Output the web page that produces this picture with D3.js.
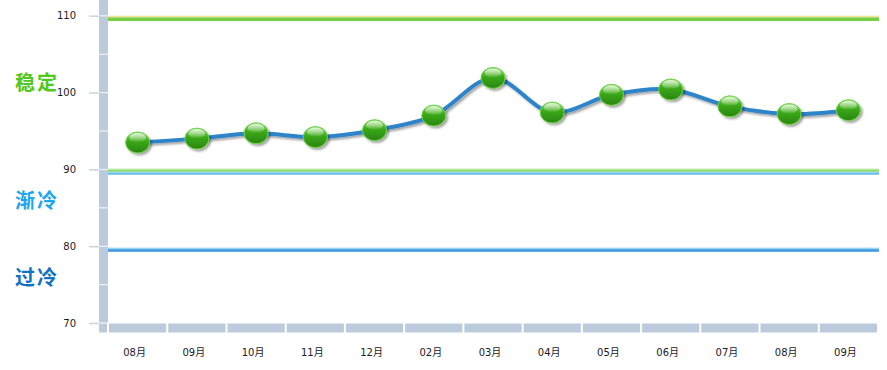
<!DOCTYPE html>
<html>
<head>
<meta charset="utf-8">
<script src="https://cdn.jsdelivr.net/npm/d3@7"></script>
<style>
  body { margin: 0; background: #fff; }
  svg { display: block; }
  .tick-label { font-family: "DejaVu Sans", "Noto Sans CJK SC", sans-serif; font-size: 10px; fill: #1a1a28; }
  .zone { font-family: "Noto Sans CJK SC", sans-serif; font-size: 20px; font-weight: bold; }
</style>
</head>
<body>
<div id="chart"></div>
<script>
// Data
const months = ["08月", "09月", "10月", "11月", "12月", "02月", "03月", "04月", "05月", "06月", "07月", "08月", "09月"];
const values = [93.5, 94.0, 94.7, 94.2, 95.1, 97.0, 101.9, 97.4, 99.7, 100.4, 98.2, 97.2, 97.7];
const yTicks = [70, 80, 90, 100, 110];
const zoneNames = ["稳定", "渐冷", "过冷"];
const zoneLabelAt = [101.2, 85.9, 75.9];
const zoneColors = ["#52c71c", "#1ea6ee", "#1171c3"];

const W = 887, H = 370;

const svg = d3.select("#chart")
    .append("svg")
    .attr("width", W)
    .attr("height", H);

const defs = svg.append("defs");

// drop shadow
const shadow = defs.append("filter").attr("id", "shadow")
    .attr("x", "-20%").attr("y", "-20%").attr("width", "150%").attr("height", "160%");
shadow.append("feDropShadow")
    .attr("dx", 2).attr("dy", 2)
    .attr("stdDeviation", 1.3)
    .attr("flood-color", "#000")
    .attr("flood-opacity", 0.35);

// ball gradient
const ballGrad = defs.append("linearGradient")
    .attr("id", "ball").attr("x1", "0").attr("y1", "0").attr("x2", "0").attr("y2", "1");
[["0%", "#7fd85a"], ["45%", "#3aa818"], ["100%", "#2a850f"]].forEach(s => {
    ballGrad.append("stop").attr("offset", s[0]).attr("stop-color", s[1]);
});
const hiGrad = defs.append("linearGradient")
    .attr("id", "hi").attr("x1", "0").attr("y1", "0").attr("x2", "0").attr("y2", "1");
hiGrad.append("stop").attr("offset", "0%").attr("stop-color", "#fff").attr("stop-opacity", 0.8);
hiGrad.append("stop").attr("offset", "100%").attr("stop-color", "#fff").attr("stop-opacity", 0.05);

// Scales
const x = d3.scaleBand()
    .domain(d3.range(months.length))
    .range([108, 878]);

const y = d3.scaleLinear()
    .domain([70, 110])
    .range([323, 15.7]);

// Vertical axis bar
svg.append("rect")
    .attr("x", 99).attr("y", 0)
    .attr("width", 9).attr("height", y(70) - 0.5)
    .attr("fill", "#bccbdb");

// white separators every 5 units
svg.selectAll(".sep")
    .data(d3.range(75, 111, 5))
    .enter().append("rect")
    .attr("x", 99).attr("y", d => y(d) - 0.5)
    .attr("width", 9).attr("height", 1.2)
    .attr("fill", "#eef2f6");

// Left axis ticks + labels
const yAxis = svg.append("g")
    .attr("transform", "translate(99,0)")
    .call(d3.axisLeft(y).tickValues(yTicks).tickSize(10).tickPadding(13));
yAxis.select(".domain").remove();
yAxis.selectAll(".tick line").attr("stroke", "#c9d4e0").attr("stroke-width", 1.5);
yAxis.selectAll(".tick text").attr("class", "tick-label").attr("fill", null);

// Bottom bar segments
svg.append("rect")
    .attr("x", 99).attr("y", y(70) + 0.5)
    .attr("width", 8).attr("height", 9)
    .attr("fill", "#bccbdb");
svg.selectAll(".seg")
    .data(d3.range(months.length))
    .enter().append("rect")
    .attr("x", d => x(d) + 1)
    .attr("y", y(70) + 0.5)
    .attr("width", x.bandwidth() - 2)
    .attr("height", 9)
    .attr("fill", "#bccbdb");

// x labels
const xAxis = svg.append("g")
    .attr("transform", `translate(-3,${y(70) + 21})`)
    .call(d3.axisBottom(x).tickSize(0).tickPadding(5).tickFormat(i => months[i]));
xAxis.select(".domain").remove();
xAxis.selectAll(".tick text").attr("class", "tick-label").attr("fill", null);

// Reference lines
const x0 = 108, x1 = 879;
function band(v, off, h, color) {
    svg.append("rect")
        .attr("x", x0).attr("y", y(v) + off)
        .attr("width", x1 - x0).attr("height", h)
        .attr("fill", color);
}
// 110
band(110, 0, 1.3, "#f8e29a");
band(110, 1.3, 1, "#a6e07e");
band(110, 2.3, 3, "#78cf45");
// 90
band(90, -0.7, 1.2, "#b4e8a0");
band(90, 0.5, 2, "#8edb6c");
band(90, 2.5, 1.2, "#9ad9f6");
band(90, 3.7, 1.6, "#5cb7ec");
// 80
band(80, 1.5, 1.4, "#92d8f6");
band(80, 2.9, 2.8, "#4a9fe0");

// Zone labels
svg.selectAll(".zone")
    .data(zoneNames)
    .enter().append("text")
    .attr("class", "zone")
    .attr("x", 15)
    .attr("y", (d, i) => y(zoneLabelAt[i]))
    .attr("dy", "0.35em")
    .attr("letter-spacing", 2)
    .attr("fill", (d, i) => zoneColors[i])
    .text(d => d);

// Line
const cx = i => x(i) + x.bandwidth() / 2;
const line = d3.line()
    .x((d, i) => cx(i))
    .y(d => y(d))
    .curve(d3.curveCatmullRom.alpha(0.5));

svg.append("path")
    .datum(values)
    .attr("d", line)
    .attr("fill", "none")
    .attr("stroke", "#2f84c9")
    .attr("stroke-width", 4)
    .attr("filter", "url(#shadow)");

// Balls
const balls = svg.selectAll(".ball")
    .data(values)
    .enter().append("g")
    .attr("class", "ball")
    .attr("transform", (d, i) => `translate(${cx(i)},${y(d)})`);

balls.append("ellipse")
    .attr("rx", 12).attr("ry", 10.5)
    .attr("fill", "url(#ball)")
    .attr("stroke", "#6fd44a")
    .attr("stroke-width", 1)
    .attr("filter", "url(#shadow)");

balls.append("ellipse")
    .attr("cy", -5)
    .attr("rx", 8.5).attr("ry", 4.5)
    .attr("fill", "url(#hi)");
</script>
</body>
</html>
